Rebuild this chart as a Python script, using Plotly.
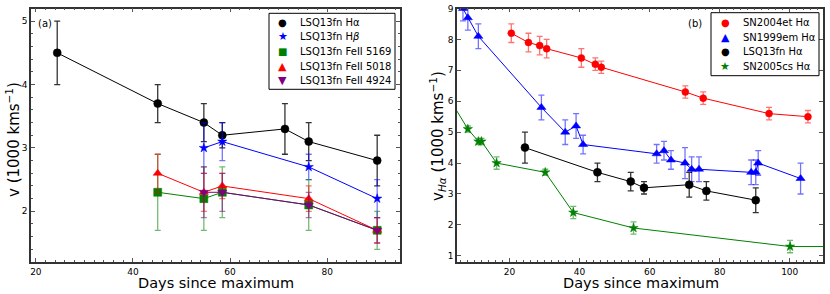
import plotly.graph_objects as go

# ---- Panel (a): LSQ13fn line velocities ----
a_days_ha = [24.4, 45.1, 54.6, 58.4, 71.3, 76.2, 90.3]
a_v_ha = [4.5, 3.7, 3.4, 3.2, 3.3, 3.1, 2.8]
a_e_ha = [0.5, 0.3, 0.3, 0.2, 0.4, 0.3, 0.4]

a_days_hb = [54.6, 58.4, 76.2, 90.3]
a_v_hb = [3.0, 3.1, 2.7, 2.2]
a_e_hb = [0.4, 0.3, 0.2, 0.3]

a_days_fe5169 = [45.1, 54.6, 58.4, 76.2, 90.3]
a_v_fe5169 = [2.3, 2.2, 2.3, 2.1, 1.7]
a_e_fe5169 = [0.6, 0.5, 0.4, 0.4, 0.3]

a_days_fe5018 = [45.1, 54.6, 58.4, 76.2, 90.3]
a_v_fe5018 = [2.6, 2.3, 2.4, 2.2, 1.7]
a_e_fe5018 = [0.3, 0.3, 0.2, 0.2, 0.2]

a_days_fe4924 = [54.6, 58.4, 76.2, 90.3]
a_v_fe4924 = [2.3, 2.3, 2.1, 1.7]
a_e_fe4924 = [0.4, 0.3, 0.2, 0.2]

a_names = ["LSQ13fn Hα", "LSQ13fn H<i>β</i>", "LSQ13fn FeII 5169", "LSQ13fn FeII 5018", "LSQ13fn FeII 4924"]

# ---- Panel (b): H-alpha velocity comparison ----
b_days_04et = [20.5, 25.4, 28.6, 30.6, 40.5, 44.5, 46.2, 70.2, 75.3, 94.1, 105.2]
b_v_04et = [8.2, 7.9, 7.8, 7.7, 7.4, 7.2, 7.1, 6.3, 6.1, 5.6, 5.5]
b_e_04et = [0.3, 0.3, 0.3, 0.3, 0.3, 0.2, 0.2, 0.2, 0.2, 0.2, 0.2]

b_days_99em = [6.7, 8.1, 11.1, 29.1, 35.9, 39.0, 41.0, 62.0, 64.1, 66.1, 70.1, 72.0, 74.1, 89.0, 90.3, 91.0, 103.1]
b_v_99em = [9.0, 8.7, 8.1, 5.8, 5.0, 5.2, 4.6, 4.3, 4.4, 4.1, 4.0, 3.8, 3.8, 3.7, 3.7, 4.0, 3.5]
b_e_99em = [0.4, 0.4, 0.4, 0.4, 0.4, 0.4, 0.3, 0.3, 0.3, 0.3, 0.5, 0.4, 0.4, 0.4, 0.4, 0.4, 0.5]

b_days_13fn = [24.4, 45.1, 54.6, 58.4, 71.3, 76.2, 90.3]
b_v_13fn = [4.5, 3.7, 3.4, 3.2, 3.3, 3.1, 2.8]
b_e_13fn = [0.5, 0.3, 0.3, 0.2, 0.4, 0.3, 0.4]

b_days_05cs = [3.0, 8.1, 11.1, 12.0, 16.3, 30.2, 38.2, 55.4, 100.1, 125.0]
b_v_05cs = [6.05, 5.1, 4.7, 4.7, 4.0, 3.7, 2.4, 1.9, 1.3, 1.3]
b_e_05cs = [0.1, 0.1, 0.1, 0.1, 0.2, 0.1, 0.2, 0.2, 0.2, 0.1]

b_names = ["SN2004et Hα", "SN1999em Hα", "LSQ13fn Hα", "SN2005cs Hα"]

FONT = "DejaVu Sans"
W, H = 830, 294
fig = go.Figure()


def px_x(p):
    return p / W


def px_y(p):
    return 1 - p / H


def add_series(x, y, e, color, ecolor, symbol, size, xa, ya):
    fig.add_trace(go.Scatter(x=x, y=y, mode="lines", line=dict(color=color, width=1),
                             xaxis=xa, yaxis=ya, showlegend=False, hoverinfo="skip"))
    fig.add_trace(go.Scatter(x=x, y=y, mode="markers", showlegend=False,
                             marker=dict(symbol=symbol, size=size, color=color,
                                         line=dict(color=color, width=0.5)),
                             error_y=dict(type="data", array=e, visible=True, color=ecolor,
                                          thickness=1.3, width=3),
                             xaxis=xa, yaxis=ya))


a_colors = ["black", "blue", "green", "red", "purple"]
a_glyphs = ["●", "★", "■", "▲", "▼"]
add_series(a_days_ha, a_v_ha, a_e_ha, "black", "rgba(0,0,0,0.8)", "circle", 8, "x", "y")
add_series(a_days_hb, a_v_hb, a_e_hb, "blue", "rgba(0,0,255,0.55)", "star", 7, "x", "y")
add_series(a_days_fe5169, a_v_fe5169, a_e_fe5169, "green", "rgba(0,128,0,0.55)", "square", 8, "x", "y")
add_series(a_days_fe5018, a_v_fe5018, a_e_fe5018, "red", "rgba(255,0,0,0.55)", "triangle-up", 8, "x", "y")
add_series(a_days_fe4924, a_v_fe4924, a_e_fe4924, "purple", "rgba(128,0,128,0.55)", "triangle-down", 8, "x", "y")

b_colors = ["red", "blue", "black", "green"]
b_glyphs = ["●", "▲", "●", "★"]
add_series(b_days_04et, b_v_04et, b_e_04et, "red", "rgba(255,0,0,0.55)", "circle", 7, "x2", "y2")
add_series(b_days_99em, b_v_99em, b_e_99em, "blue", "rgba(0,0,255,0.55)", "triangle-up", 8, "x2", "y2")
add_series(b_days_13fn, b_v_13fn, b_e_13fn, "black", "rgba(0,0,0,0.8)", "circle", 8, "x2", "y2")
add_series(b_days_05cs, b_v_05cs, b_e_05cs, "green", "rgba(0,128,0,0.55)", "star", 7, "x2", "y2")

top, bottom = 8.5, 262
ydom = [1 - bottom / H, 1 - top / H]

axis_common = dict(showline=True, linecolor="#333", linewidth=1.5, mirror="ticks",
                   ticks="inside", ticklen=4, tickcolor="#555", showgrid=False, zeroline=False,
                   automargin=False, tickfont=dict(family=FONT, size=9, color="black"))

annotations = []
shapes = []

# axis titles
annotations.append(dict(text="Days since maximum", x=px_x(216), y=px_y(283), xref="paper", yref="paper",
                        showarrow=False, font=dict(size=14.5), xanchor="center", yanchor="middle"))
annotations.append(dict(text="Days since maximum", x=px_x(641), y=px_y(283), xref="paper", yref="paper",
                        showarrow=False, font=dict(size=14.5), xanchor="center", yanchor="middle"))
annotations.append(dict(text="v (1000 kms<sup>−1</sup>)", x=px_x(13), y=px_y(140), xref="paper", yref="paper",
                        showarrow=False, font=dict(size=15), textangle=-90, xanchor="center", yanchor="middle"))
annotations.append(dict(text="v<sub><i>Hα</i></sub> (1000 kms<sup>−1</sup>)", x=px_x(437), y=px_y(136),
                        xref="paper", yref="paper", showarrow=False, font=dict(size=15), textangle=-90,
                        xanchor="center", yanchor="middle"))
# panel labels
annotations.append(dict(text="(a)", x=px_x(45), y=px_y(24), xref="paper", yref="paper",
                        xanchor="center", yanchor="middle", showarrow=False, font=dict(size=10)))
annotations.append(dict(text="(b)", x=px_x(695), y=px_y(24), xref="paper", yref="paper",
                        xanchor="center", yanchor="middle", showarrow=False, font=dict(size=10)))


def build_legend(box, rows_y, mx, tx, names, colors, glyphs):
    x0, y0, x1, y1 = box
    shapes.append(dict(type="rect", xref="paper", yref="paper", x0=px_x(x0), x1=px_x(x1),
                       y0=px_y(y1), y1=px_y(y0), line=dict(color="black", width=1), fillcolor="white",
                       layer="above"))
    for ry, name, col, gl in zip(rows_y, names, colors, glyphs):
        gsize = 10 if gl in ("●", "■") else 11
        annotations.append(dict(text=gl, x=px_x(mx), y=px_y(ry), xref="paper", yref="paper",
                                showarrow=False, xanchor="center", yanchor="middle",
                                font=dict(size=gsize, color=col)))
        annotations.append(dict(text=name, x=px_x(tx), y=px_y(ry), xref="paper", yref="paper",
                                showarrow=False, xanchor="left", yanchor="middle",
                                font=dict(size=10, color="black")))


build_legend((269, 13.3, 395, 89.3), [22.7, 36.5, 51.5, 66.3, 80.5], 282.5, 298, a_names, a_colors, a_glyphs)
build_legend((711, 12.7, 819, 75.7), [22.7, 37, 51.7, 66.5], 725, 741, b_names, b_colors, b_glyphs)

fig.update_layout(
    width=W, height=H, margin=dict(l=0, r=0, t=0, b=0),
    paper_bgcolor="white", plot_bgcolor="white", showlegend=False,
    font=dict(family=FONT, color="black"),
    xaxis=dict(domain=[31 / W, 400 / W], range=[19, 95], dtick=20, tick0=0,
               minor=dict(ticks="inside", dtick=2, ticklen=2, tickcolor="#555"),
               anchor="y", **axis_common),
    yaxis=dict(domain=ydom, range=[1.2, 5.2], dtick=1,
               minor=dict(ticks="inside", dtick=0.2, ticklen=2, tickcolor="#555"),
               anchor="x", **axis_common),
    xaxis2=dict(domain=[457 / W, 823 / W], range=[5, 109.5], dtick=20, tick0=0,
                minor=dict(ticks="inside", dtick=2, ticklen=2, tickcolor="#555"),
                anchor="y2", **axis_common),
    yaxis2=dict(domain=ydom, range=[0.8, 9.0], dtick=1,
                anchor="x2", **axis_common),
    annotations=annotations,
    shapes=shapes,
)

fig.write_html("out.html", config={"displayModeBar": False},
               post_script="document.body.style.margin='0';document.body.style.overflow='hidden';")
